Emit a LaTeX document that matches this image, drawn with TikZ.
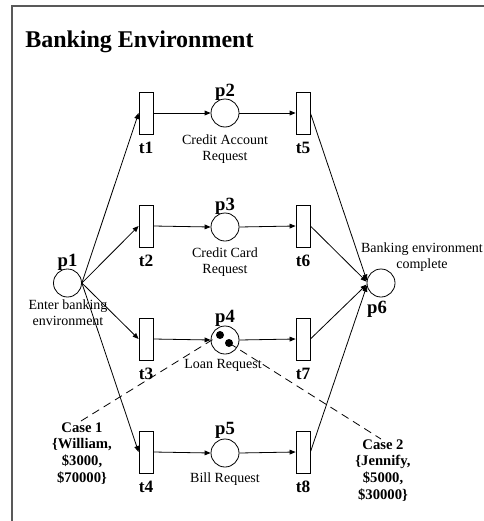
\documentclass[tikz,border=0pt]{standalone}
\usepackage{fontspec}
\setmainfont{Liberation Serif}
\usetikzlibrary{arrows.meta}
\begin{document}
\begin{tikzpicture}[x=0.75pt,y=-0.75pt,
  place/.style={circle,draw,line width=0.6pt,minimum size=21pt,inner sep=0pt},
  trans/.style={rectangle,draw,line width=0.6pt,minimum width=10.5pt,minimum height=31.5pt,inner sep=0pt},
  arc/.style={-{Triangle[length=4.5pt,width=3.6pt]},line width=0.6pt},
  pname/.style={font=\fontsize{14}{16}\selectfont\bfseries,anchor=base,inner sep=0pt},
  tname/.style={font=\fontsize{13}{15}\selectfont\bfseries,anchor=base,inner sep=0pt},
  desc/.style={font=\fontsize{10.5}{11.6}\selectfont,align=center,anchor=base,inner sep=0pt},
  case/.style={font=\fontsize{11}{12.4}\selectfont\bfseries,align=center,anchor=base,inner sep=0pt},
  token/.style={circle,fill,inner sep=0pt,minimum size=6pt},
  caseline/.style={dashed,dash pattern=on 6pt off 4pt,line width=0.6pt}
]
\useasboundingbox (0,0) rectangle (484,521);

% frame
\draw[line width=1.5pt,black!65] (11.5,521) -- (11.5,5.5) -- (484,5.5);

% title
\node[font=\fontsize{18}{20}\selectfont\bfseries,anchor=base west,inner sep=0pt] (title) at (25,47) {Banking Environment};

% places
\node[place] (p1) at (67.5,283) {};
\node[place] (p2) at (225,113) {};
\node[place] (p3) at (225,227) {};
\node[place] (p4) at (225,340) {};
\node[place] (p5) at (225,453) {};
\node[place] (p6) at (381,283) {};

% tokens in p4
\node[token] (k1) at (220,335) {};
\node[token] (k2) at (229,343) {};

% transitions
\node[trans] (t1) at (146,113) {};
\node[trans] (t2) at (146,226) {};
\node[trans] (t3) at (146,339) {};
\node[trans] (t4) at (146,452) {};
\node[trans] (t5) at (303,113) {};
\node[trans] (t6) at (303,226) {};
\node[trans] (t7) at (303,339) {};
\node[trans] (t8) at (303,452) {};

% place names
\node[pname] (n1) at (67.5,266) {p1};
\node[pname] (n2) at (225,96) {p2};
\node[pname] (n3) at (225,210) {p3};
\node[pname] (n4) at (225,322) {p4};
\node[pname] (n5) at (225,434) {p5};
\node[pname] (n6) at (377,313) {p6};

% transition names
\foreach \t/\y in {1/113,2/226,3/339,4/452} {
  \node[tname] (l\t) at (146,\y+40) {t\t};
}
\foreach \t/\y in {5/113,6/226,7/339,8/452} {
  \node[tname] (l\t) at (303,\y+40) {t\t};
}

% descriptions (base = baseline of the last line)
\node[desc] (d1) at (68,325) {Enter banking\\environment};
\node[desc] (d2) at (225,160) {Credit Account\\Request};
\node[desc] (d3) at (225,273) {Credit Card\\Request};
\node[desc] (d4) at (223,368) {Loan Request};
\node[desc] (d5) at (225,482) {Bill Request};
\node[desc] (d6) at (422,268) {Banking environment\\complete};

% cases
\node[case] (c1) at (82,482) {Case 1\\\{William,\\\$3000,\\\$70000\}};
\node[case] (c2) at (383,499) {Case 2\\\{Jennify,\\\$5000,\\\$30000\}};
\coordinate (c1end) at (81,421);
\coordinate (c2end) at (381,439);

% arcs
\foreach \t in {1,2,3,4} \draw[arc] (p1.east) -- (t\t.west);
\draw[arc] (t1.east) -- (p2.west);
\draw[arc] (p2.east) -- (t5.west);
\draw[arc] (t2.east) -- (p3.west);
\draw[arc] (p3.east) -- (t6.west);
\draw[arc] (t3.east) -- (p4.west);
\draw[arc] (p4.east) -- (t7.west);
\draw[arc] (t4.east) -- (p5.west);
\draw[arc] (p5.east) -- (t8.west);
\foreach \t/\a in {5/170,6/175,7/186,8/191} \draw[arc] (t\t.east) -- (p6.\a);

% case annotations
\draw[caseline] (c1end) -- (k1.center);
\draw[caseline] (k2.center) -- (c2end);
\end{tikzpicture}
\end{document}
